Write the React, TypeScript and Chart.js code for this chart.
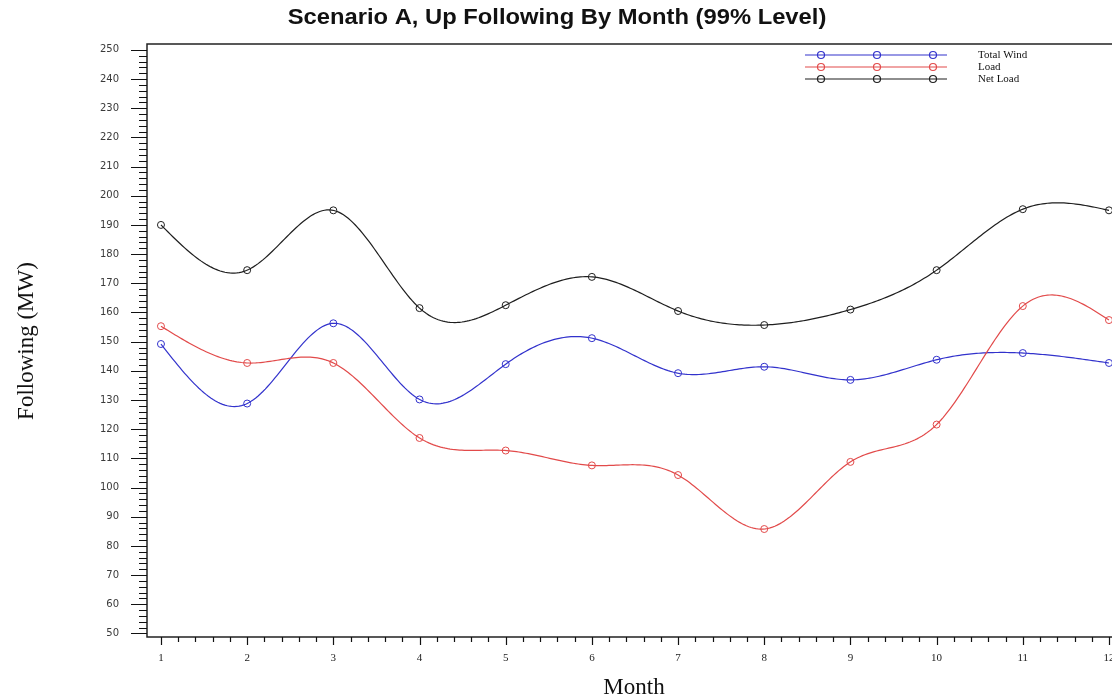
import React, { useEffect, useRef } from "react";
import { Chart, registerables } from "chart.js";

Chart.register(...registerables);

// Monthly up-following requirement (MW) at the 99% level
const months = [1, 2, 3, 4, 5, 6, 7, 8, 9, 10, 11, 12];
const monthTickLabels = ["1", "2", "3", "4", "5", "6", "7", "8", "9", "10", "11", "12"];
const totalWind = [149.2, 128.8, 156.3, 130.2, 142.3, 151.2, 139.2, 141.4, 136.9, 143.8, 146.1, 142.7];
const load = [155.3, 142.7, 142.7, 117.0, 112.7, 107.6, 104.3, 85.8, 108.8, 121.6, 162.2, 157.4];
const netLoad = [190.0, 174.5, 195.0, 161.5, 162.5, 172.2, 160.5, 155.7, 161.0, 174.5, 195.4, 195.0];
const yTickValues = [50, 60, 70, 80, 90, 100, 110, 120, 130, 140, 150, 160, 170, 180, 190, 200, 210, 220, 230, 240, 250];

const seriesNames = ["Total Wind", "Load", "Net Load"];
const seriesColors = ["#3232cc", "#e24a4a", "#1e1e1e"];

const titleText = "Scenario A, Up Following By Month (99% Level)";
const xTitleText = "Month";
const yTitleText = "Following (MW)";

// Natural cubic spline through the given points
function naturalSpline(xs: number[], ys: number[]) {
  const n = xs.length;
  const h: number[] = [];
  for (let i = 0; i < n - 1; i++) h[i] = xs[i + 1] - xs[i];
  const M = new Array(n).fill(0);
  const cp: number[] = [];
  const dp: number[] = [];
  for (let i = 1; i < n - 1; i++) {
    const a = h[i - 1];
    const b = 2 * (h[i - 1] + h[i]);
    const c = h[i];
    const d = 6 * ((ys[i + 1] - ys[i]) / h[i] - (ys[i] - ys[i - 1]) / h[i - 1]);
    const denom = b - (i > 1 ? a * cp[i - 1] : 0);
    cp[i] = c / denom;
    dp[i] = (d - (i > 1 ? a * dp[i - 1] : 0)) / denom;
  }
  for (let i = n - 2; i >= 1; i--) M[i] = dp[i] - cp[i] * M[i + 1];
  return (x: number) => {
    let i = 0;
    while (i < n - 2 && x > xs[i + 1]) i++;
    const hi = h[i];
    const A = (xs[i + 1] - x) / hi;
    const B = (x - xs[i]) / hi;
    return A * ys[i] + B * ys[i + 1] + ((A * A * A - A) * M[i] + (B * B * B - B) * M[i + 1]) * hi * hi / 6;
  };
}

const splinePlugin = {
  id: "splineLines",
  beforeDatasetsDraw(chart: any) {
    const { ctx } = chart;
    const xs = chart.scales.x;
    const ys = chart.scales.y;
    chart.data.datasets.forEach((ds: any, di: number) => {
      const pts = ds.data as { x: number; y: number }[];
      const f = naturalSpline(pts.map((p) => p.x), pts.map((p) => p.y));
      ctx.save();
      ctx.strokeStyle = seriesColors[di];
      ctx.lineWidth = 1.2;
      ctx.beginPath();
      const x0 = pts[0].x;
      const x1 = pts[pts.length - 1].x;
      const steps = 400;
      for (let s = 0; s <= steps; s++) {
        const xv = x0 + ((x1 - x0) * s) / steps;
        const px = xs.getPixelForValue(xv);
        const py = ys.getPixelForValue(f(xv));
        if (s === 0) ctx.moveTo(px, py);
        else ctx.lineTo(px, py);
      }
      ctx.stroke();
      ctx.restore();
    });
  },
};

const axesPlugin = {
  id: "framedAxes",
  beforeDatasetsDraw(chart: any) {
    const { ctx, chartArea } = chart;
    const xs = chart.scales.x;
    const ys = chart.scales.y;
    const { left, top, right, bottom } = chartArea;
    ctx.save();
    ctx.strokeStyle = "#222";
    ctx.lineWidth = 1.5;
    ctx.beginPath();
    ctx.moveTo(right + 2, top);
    ctx.lineTo(left, top);
    ctx.lineTo(left, bottom);
    ctx.lineTo(right + 2, bottom);
    ctx.stroke();

    // y ticks: major every 10, minor every 2
    ctx.strokeStyle = "#111";
    ctx.lineWidth = 1.2;
    ctx.beginPath();
    for (let v = 50; v <= 250; v += 2) {
      const py = Math.round(ys.getPixelForValue(v)) + 0.5;
      const major = v % 10 === 0;
      ctx.moveTo(left - (major ? 16 : 8), py);
      ctx.lineTo(left, py);
    }
    // x ticks: major every month, minor every 0.2
    for (let k = 5; k <= 60; k++) {
      const v = k / 5;
      const px = Math.round(xs.getPixelForValue(v)) + 0.5;
      const major = k % 5 === 0;
      ctx.moveTo(px, bottom);
      ctx.lineTo(px, bottom + (major ? 8 : 5));
    }
    ctx.stroke();

    ctx.fillStyle = "#3a3a3a";
    ctx.font = "10px 'DejaVu Sans'";
    ctx.textAlign = "right";
    ctx.textBaseline = "middle";
    yTickValues.forEach((v) => {
      ctx.fillText(String(v), left - 28, ys.getPixelForValue(v));
    });

    ctx.fillStyle = "#222";
    ctx.font = "11px 'Liberation Serif'";
    ctx.textAlign = "center";
    ctx.textBaseline = "middle";
    months.forEach((m, i) => {
      ctx.fillText(monthTickLabels[i], xs.getPixelForValue(m), bottom + 21);
    });
    ctx.restore();
  },
  afterDraw(chart: any) {
    const { ctx } = chart;
    ctx.save();
    ctx.fillStyle = "#111";
    ctx.textAlign = "center";
    ctx.textBaseline = "middle";
    ctx.save();
    ctx.translate(557, 18);
    ctx.scale(1.08, 1);
    ctx.font = "bold 22px 'Liberation Sans'";
    ctx.fillText(titleText, 0, 0);
    ctx.restore();

    ctx.font = "23px 'Liberation Serif'";
    ctx.fillText(xTitleText, 634, 688);
    ctx.translate(27, 341);
    ctx.rotate(-Math.PI / 2);
    ctx.fillText(yTitleText, 0, 0);
    ctx.restore();

    // legend: line sample with three markers per series
    ctx.save();
    const rows = [55, 67, 79];
    seriesNames.forEach((name, i) => {
      const y = rows[i];
      ctx.strokeStyle = seriesColors[i];
      ctx.lineWidth = 1.2;
      ctx.beginPath();
      ctx.moveTo(805, y);
      ctx.lineTo(947, y);
      ctx.stroke();
      [821, 877, 933].forEach((mx) => {
        ctx.beginPath();
        ctx.arc(mx, y, 3.5, 0, Math.PI * 2);
        ctx.stroke();
      });
      ctx.fillStyle = "#111";
      ctx.font = "11px 'Liberation Serif'";
      ctx.textAlign = "left";
      ctx.textBaseline = "middle";
      ctx.fillText(name, 978, y);
    });
    ctx.restore();
  },
};

export default function App() {
  const canvasRef = useRef<HTMLCanvasElement | null>(null);

  useEffect(() => {
    const canvas = canvasRef.current;
    if (!canvas) return;
    const toPoints = (vals: number[]) => months.map((m, i) => ({ x: m, y: vals[i] }));
    const series = [totalWind, load, netLoad];
    const chart = new Chart(canvas, {
      type: "line",
      data: {
        datasets: series.map((vals, i) => ({
          label: seriesNames[i],
          data: toPoints(vals),
          showLine: false,
          borderColor: seriesColors[i],
          backgroundColor: "rgba(0,0,0,0)",
          pointRadius: 3.5,
          pointBorderWidth: 1,
          pointBorderColor: seriesColors[i],
          pointBackgroundColor: "rgba(0,0,0,0)",
          clip: false as any,
        })),
      },
      options: {
        responsive: false,
        animation: false,
        devicePixelRatio: 1,
        layout: { autoPadding: false, padding: { left: 147, top: 44, right: 0, bottom: 63 } },
        scales: {
          x: { type: "linear", display: false, min: 0.838, max: 12.035 },
          y: { type: "linear", display: false, min: 48.8, max: 252 },
        },
        plugins: {
          legend: { display: false },
          title: { display: false },
          tooltip: { enabled: false },
        },
      },
      plugins: [axesPlugin, splinePlugin],
    });
    return () => chart.destroy();
  }, []);

  return (
    <div style={{ position: "fixed", left: 0, top: 0, width: 1112, height: 700, background: "#fff" }}>
      <canvas ref={canvasRef} width={1112} height={700} style={{ display: "block" }} />
    </div>
  );
}
